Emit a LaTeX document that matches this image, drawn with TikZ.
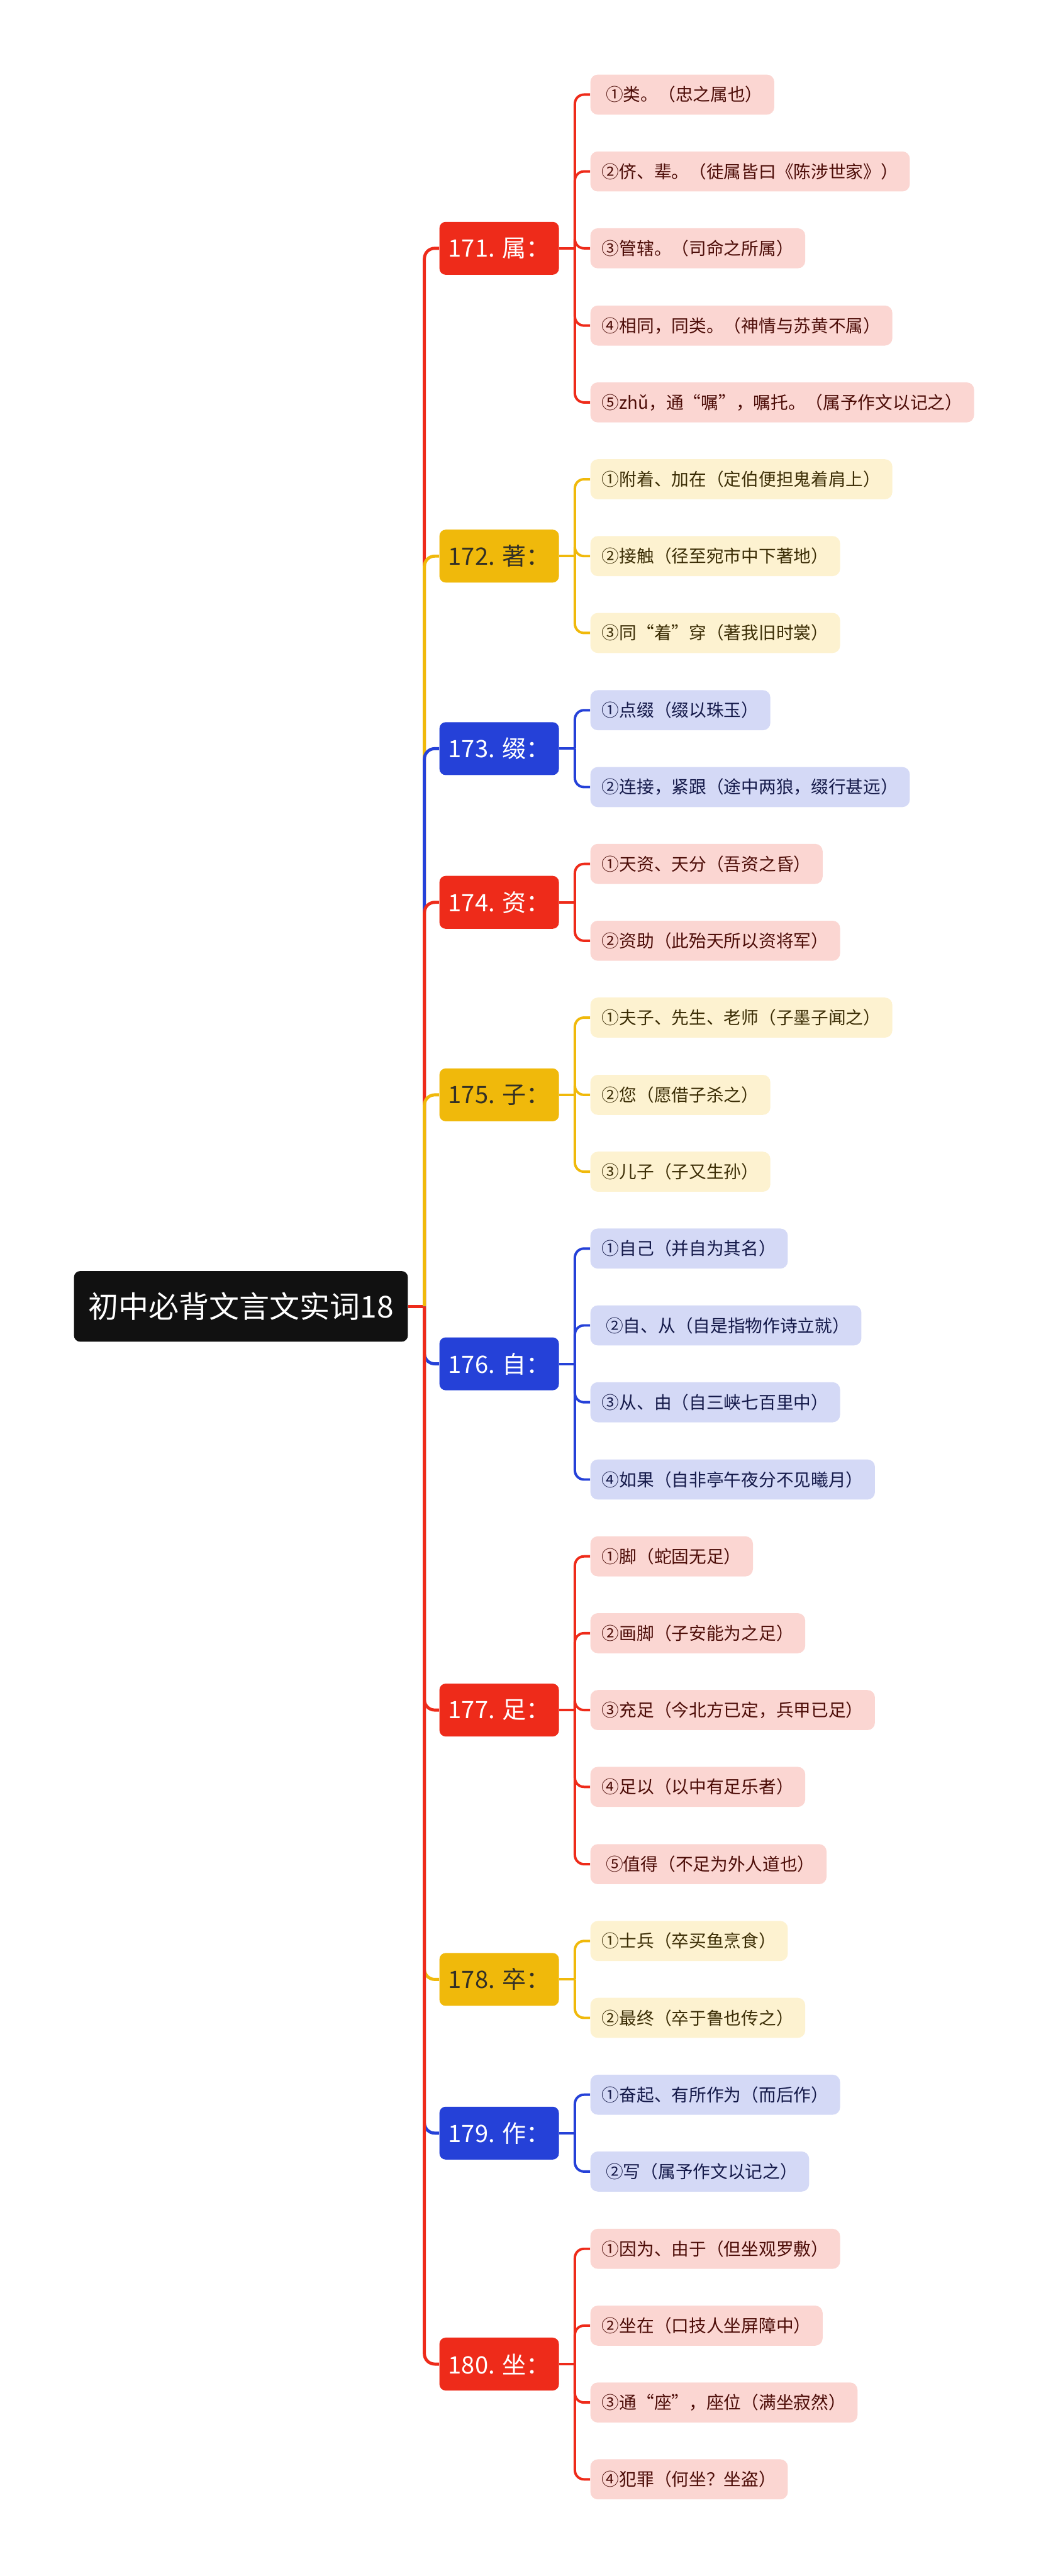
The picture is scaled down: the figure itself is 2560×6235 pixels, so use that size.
\documentclass[tikz,border=0pt]{standalone}
\usepackage{fontspec}
\setmainfont{Noto Sans CJK SC}
\usetikzlibrary{positioning,calc}

\definecolor{cr}{HTML}{EE2B1A}
\definecolor{cy}{HTML}{F0B90B}
\definecolor{cb}{HTML}{2541D8}
\definecolor{lr}{HTML}{FBD6D2}
\definecolor{ly}{HTML}{FDF2D0}
\definecolor{lb}{HTML}{D4D9F6}
\definecolor{tr}{HTML}{4D0D08}
\definecolor{ty}{HTML}{3B2D05}
\definecolor{tb}{HTML}{151A4A}
\definecolor{tm}{HTML}{333026}
\definecolor{rootbg}{HTML}{111111}

\newcommand{\leaffont}{\fontsize{12pt}{14pt}\selectfont}
\newcommand{\midfont}{\fontsize{16.5pt}{19pt}\selectfont}
\newcommand{\rootfont}{\fontsize{20.8pt}{24pt}\selectfont}

\begin{document}
\begin{tikzpicture}[x=0.1mm, y=-0.1mm,
  rootbox/.style={fill=rootbg, text=white, rounded corners=1.5mm, font=\rootfont,
                  minimum width=80.8mm, minimum height=17.1mm, inner sep=0pt},
  mid/.style={rounded corners=1.5mm, font=\midfont, minimum width=28.9mm,
              minimum height=12.8mm, inner sep=0pt},
  mdr/.style={mid, fill=cr, text=white},
  mdy/.style={mid, fill=cy, text=tm},
  mdb/.style={mid, fill=cb, text=white},
  leaf/.style={anchor=west, rounded corners=1.8mm, font=\leaffont,
               minimum height=9.7mm, inner xsep=2.8mm, inner ysep=0pt},
  lfr/.style={leaf, fill=lr, text=tr},
  lfy/.style={leaf, fill=ly, text=ty},
  lfb/.style={leaf, fill=lb, text=tb},
  wire/.style={line width=0.75mm, draw=#1, rounded corners=2.5mm},
  twig/.style={line width=0.6mm, draw=#1, rounded corners=2.2mm}]
\useasboundingbox (0,0) rectangle (2560,6235);

% root and trunk
\node[rootbox] (root) at (583,3162) {初中必背文言文实词18};
\coordinate (trunk) at (1027,3162);

% keywords
\node[mdr] (m171) at (1208,601)  {171. 属：};
\node[mdy] (m172) at (1208,1346) {172. 著：};
\node[mdb] (m173) at (1208,1812) {173. 缀：};
\node[mdr] (m174) at (1208,2184) {174. 资：};
\node[mdy] (m175) at (1208,2650) {175. 子：};
\node[mdb] (m176) at (1208,3301) {176. 自：};
\node[mdr] (m177) at (1208,4139) {177. 足：};
\node[mdy] (m178) at (1208,4791) {178. 卒：};
\node[mdb] (m179) at (1208,5163) {179. 作：};
\node[mdr] (m180) at (1208,5722) {180. 坐：};

% meanings
\node[lfr] (l171a) at (1428,229)  {\ ①类。（忠之属也）};
\node[lfr] (l171b) at (1428,415)  {②侪、辈。（徒属皆曰《陈涉世家》）};
\node[lfr] (l171c) at (1428,601)  {③管辖。（司命之所属）};
\node[lfr] (l171d) at (1428,788)  {④相同，同类。（神情与苏黄不属）};
\node[lfr] (l171e) at (1428,974)  {⑤zhǔ，通“嘱”，嘱托。（属予作文以记之）};

\node[lfy] (l172a) at (1428,1160) {①附着、加在（定伯便担鬼着肩上）};
\node[lfy] (l172b) at (1428,1346) {②接触（径至宛市中下著地）};
\node[lfy] (l172c) at (1428,1532) {③同“着”穿（著我旧时裳）};

\node[lfb] (l173a) at (1428,1719) {①点缀（缀以珠玉）};
\node[lfb] (l173b) at (1428,1905) {②连接，紧跟（途中两狼，缀行甚远）};

\node[lfr] (l174a) at (1428,2091) {①天资、天分（吾资之昏）};
\node[lfr] (l174b) at (1428,2277) {②资助（此殆天所以资将军）};

\node[lfy] (l175a) at (1428,2463) {①夫子、先生、老师（子墨子闻之）};
\node[lfy] (l175b) at (1428,2650) {②您（愿借子杀之）};
\node[lfy] (l175c) at (1428,2836) {③儿子（子又生孙）};

\node[lfb] (l176a) at (1428,3022) {①自己（并自为其名）};
\node[lfb] (l176b) at (1428,3208) {\ ②自、从（自是指物作诗立就）};
\node[lfb] (l176c) at (1428,3394) {③从、由（自三峡七百里中）};
\node[lfb] (l176d) at (1428,3581) {④如果（自非亭午夜分不见曦月）};

\node[lfr] (l177a) at (1428,3767) {①脚（蛇固无足）};
\node[lfr] (l177b) at (1428,3953) {②画脚（子安能为之足）};
\node[lfr] (l177c) at (1428,4139) {③充足（今北方已定，兵甲已足）};
\node[lfr] (l177d) at (1428,4325) {④足以（以中有足乐者）};
\node[lfr] (l177e) at (1428,4512) {\ ⑤值得（不足为外人道也）};

\node[lfy] (l178a) at (1428,4698) {①士兵（卒买鱼烹食）};
\node[lfy] (l178b) at (1428,4884) {②最终（卒于鲁也传之）};

\node[lfb] (l179a) at (1428,5070) {①奋起、有所作为（而后作）};
\node[lfb] (l179b) at (1428,5256) {\ ②写（属予作文以记之）};

\node[lfr] (l180a) at (1428,5443) {①因为、由于（但坐观罗敷）};
\node[lfr] (l180b) at (1428,5629) {②坐在（口技人坐屏障中）};
\node[lfr] (l180c) at (1428,5815) {③通“座”，座位（满坐寂然）};
\node[lfr] (l180d) at (1428,6001) {④犯罪（何坐？坐盗）};

% trunk to keywords, later ones on top
\draw[wire=cr] (root.east) -- (trunk);
\foreach \m/\c in {171/cr,172/cy,173/cb,174/cr,175/cy,176/cb,177/cr,178/cy,179/cb,180/cr}
  \draw[wire=\c] (trunk) |- (m\m.west);

% keywords to meanings
\foreach \m/\c/\ls in {171/cr/{a,b,c,d,e},172/cy/{a,b,c},173/cb/{a,b},174/cr/{a,b},
    175/cy/{a,b,c},176/cb/{a,b,c,d},177/cr/{a,b,c,d,e},178/cy/{a,b},179/cb/{a,b},
    180/cr/{a,b,c,d}}{
  \coordinate (h\m) at ($(m\m.east)+(38,0)$);
  \draw[twig=\c] (m\m.east) -- (h\m);
  \foreach \l in \ls
    \draw[twig=\c] (h\m) |- (l\m\l.west);
}
\end{tikzpicture}
\end{document}
